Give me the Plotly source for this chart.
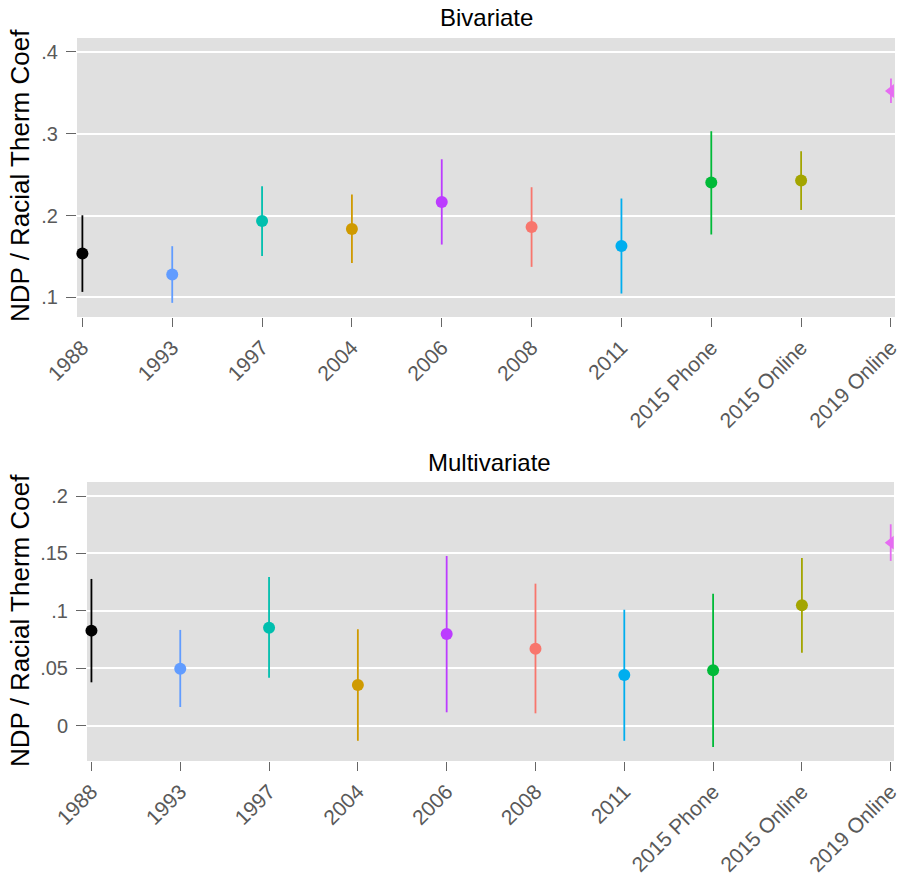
import plotly.graph_objects as go

categories = ["1988", "1993", "1997", "2004", "2006", "2008", "2011",
              "2015 Phone", "2015 Online", "2019 Online"]
colors = ["#000000", "#619CFF", "#00BFAE", "#CF9A00", "#BC3CFF", "#F8766D",
          "#00AEEF", "#00BA38", "#A3A500", "#E66CF2"]
symbols = ["circle"] * 9 + ["triangle-left"]

biv_coef = [0.1535, 0.1279, 0.1934, 0.1836, 0.2166, 0.1860, 0.1628, 0.2403, 0.2428, 0.3523]
biv_hi = [0.2003, 0.1625, 0.2358, 0.2257, 0.2688, 0.2346, 0.2208, 0.3031, 0.2786, 0.3675]
biv_lo = [0.1066, 0.0932, 0.1506, 0.1420, 0.1645, 0.1372, 0.1046, 0.1768, 0.2068, 0.3377]

mult_coef = [0.0828, 0.0497, 0.0854, 0.0355, 0.0799, 0.0671, 0.0442, 0.0483, 0.1049, 0.1594]
mult_hi = [0.1278, 0.0834, 0.1295, 0.0840, 0.1478, 0.1237, 0.1010, 0.1150, 0.1461, 0.1754]
mult_lo = [0.0378, 0.0163, 0.0418, -0.0131, 0.0117, 0.0108, -0.0131, -0.0186, 0.0636, 0.1435]

top_ticks = [0.1, 0.2, 0.3, 0.4]
top_ticktext = [".1", ".2", ".3", ".4"]
bot_ticks = [0, 0.05, 0.1, 0.15, 0.2]
bot_ticktext = ["0", ".05", ".1", ".15", ".2"]

W, H = 900, 878
FONT = "Liberation Sans, Arial, Helvetica"
fig = go.Figure()

def add_panel(coef, hi, lo, xa, ya):
    for i, c in enumerate(categories):
        fig.add_trace(go.Scatter(
            x=[i], y=[coef[i]], mode="markers",
            marker=dict(color=colors[i], size=12, symbol=symbols[i], line=dict(width=0)),
            error_y=dict(type="data", symmetric=False,
                         array=[hi[i] - coef[i]], arrayminus=[coef[i] - lo[i]],
                         color=colors[i], thickness=1.8, width=0),
            xaxis=xa, yaxis=ya, showlegend=False, cliponaxis=False))

add_panel(biv_coef, biv_hi, biv_lo, "x", "y")
add_panel(mult_coef, mult_hi, mult_lo, "x2", "y2")

gray = "#E0E0E0"
xcommon = dict(tickmode="array", tickvals=list(range(10)), ticktext=categories,
               tickangle=-45, tickfont=dict(family=FONT, size=21, color="#595959"),
               ticks="outside", ticklen=9, tickcolor="#666666", tickwidth=1,
               showgrid=False, zeroline=False, showline=False,
               automargin=False, ticklabeloverflow="allow")
ycommon = dict(tickmode="array", tickfont=dict(family=FONT, size=20, color="#595959"),
               ticks="outside", ticklen=10, ticklabelstandoff=4,
               tickcolor="#666666", tickwidth=1, showgrid=True, gridcolor="white",
               gridwidth=1.5, zeroline=False, showline=False,
               automargin=False, ticklabeloverflow="allow")

fig.update_layout(
    width=W, height=H, margin=dict(l=0, r=0, t=0, b=0),
    paper_bgcolor="white", plot_bgcolor=gray,
    xaxis=dict(domain=[77 / W, 895 / W], range=[-0.06, 9.045], anchor="y", **xcommon),
    yaxis=dict(domain=[1 - 317 / H, 1 - 38 / H], range=[0.0759, 0.4171], anchor="x",
               tickvals=top_ticks, ticktext=top_ticktext, **ycommon),
    xaxis2=dict(domain=[87 / W, 894 / W], range=[-0.05, 9.037], anchor="y2", **xcommon),
    yaxis2=dict(domain=[1 - 761 / H, 1 - 482 / H], range=[-0.0307, 0.2122], anchor="x2",
                tickvals=bot_ticks, ticktext=bot_ticktext, **ycommon),
    annotations=[
        dict(text="Bivariate", x=486 / W, y=1 - 18 / H, xref="paper", yref="paper",
             xanchor="center", yanchor="middle",
             showarrow=False, font=dict(family=FONT, size=24, color="black")),
        dict(text="Multivariate", x=490 / W, y=1 - 462 / H, xref="paper", yref="paper",
             xanchor="center", yanchor="middle",
             showarrow=False, font=dict(family=FONT, size=24, color="black")),
        dict(text="NDP / Racial Therm Coef", x=20 / W, y=1 - 176 / H, xref="paper", yref="paper",
             xanchor="center", yanchor="middle", textangle=-90, showarrow=False,
             font=dict(family=FONT, size=26, color="black")),
        dict(text="NDP / Racial Therm Coef", x=20 / W, y=1 - 621 / H, xref="paper", yref="paper",
             xanchor="center", yanchor="middle", textangle=-90, showarrow=False,
             font=dict(family=FONT, size=26, color="black")),
    ],
)

fig.write_html("out.html")
